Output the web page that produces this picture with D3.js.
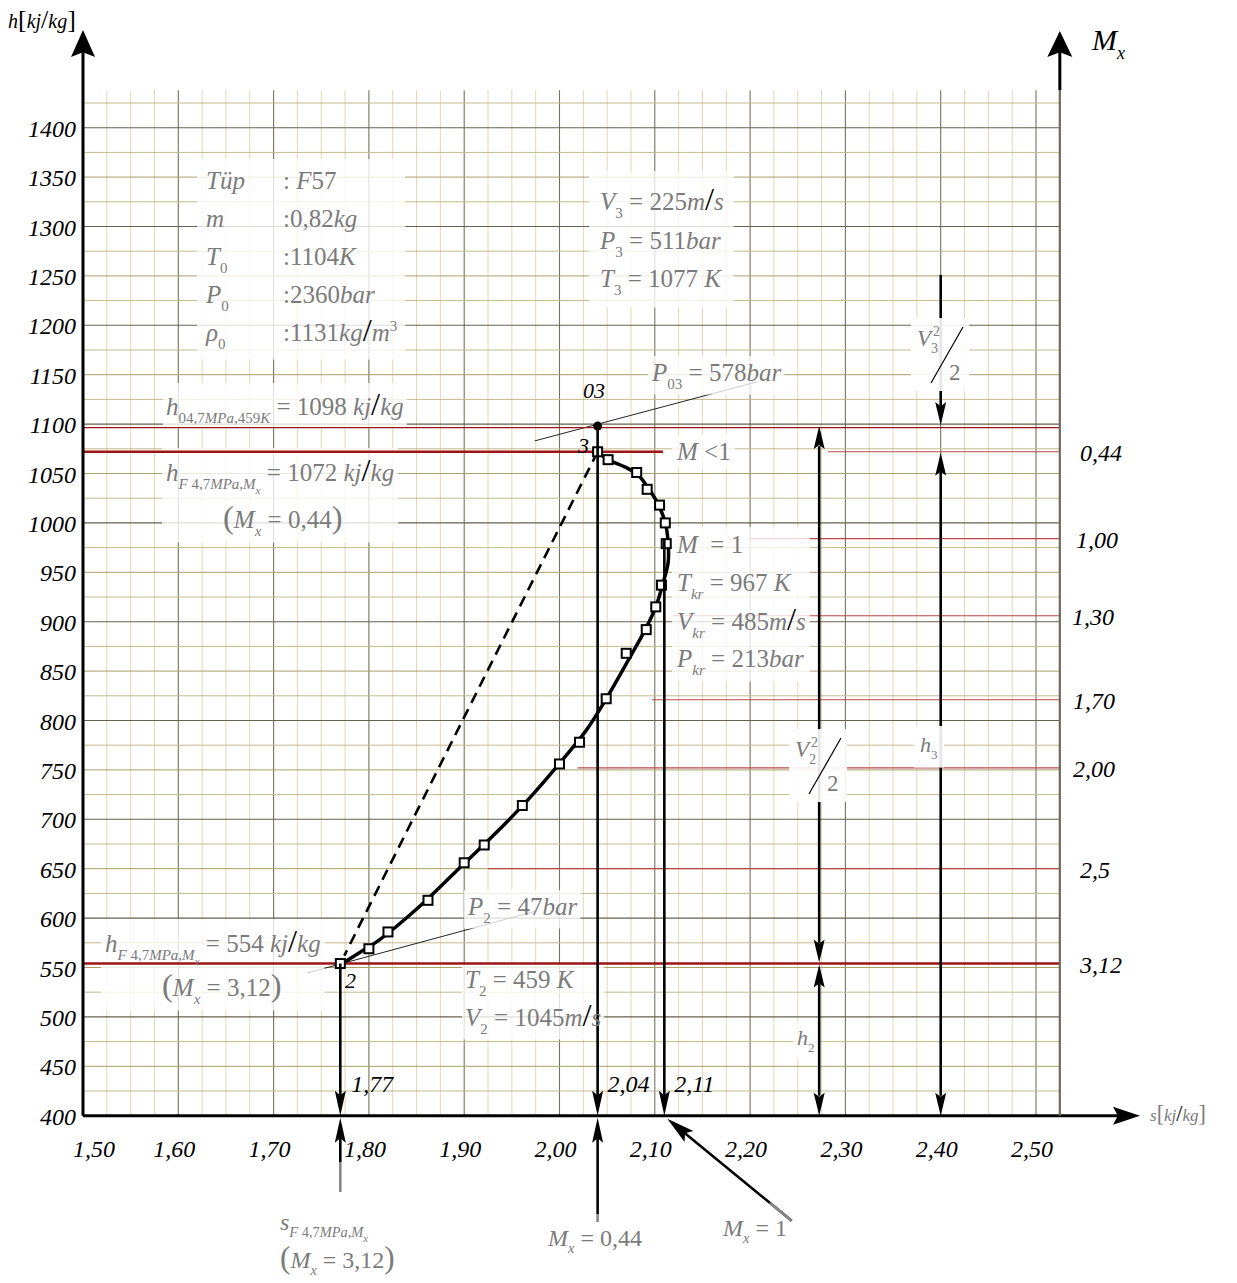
<!DOCTYPE html>
<html>
<head>
<meta charset="utf-8">
<script src="https://cdn.jsdelivr.net/npm/d3@7"></script>
<style>
  body { margin: 0; background: #fff; }
  svg text { font-family: "Liberation Serif", "Times New Roman", serif; white-space: pre; }
</style>
</head>
<body>
<div id="chart"></div>
<script>
// ---- values ----
var hTicks = d3.range(400, 1401, 50);
var sTicks = [1.5, 1.6, 1.7, 1.8, 1.9, 2.0, 2.1, 2.2, 2.3, 2.4, 2.5];
var sTickLabels = ["1,50", "1,60", "1,70", "1,80", "1,90", "2,00", "2,10", "2,20", "2,30", "2,40", "2,50"];

// measured states (squares)
var pointS = [2.040, 2.051, 2.081, 2.092, 2.105, 2.111, 2.112, 2.107, 2.101, 2.091, 2.070, 2.049, 2.021, 2.000, 1.961, 1.921, 1.900, 1.862, 1.820, 1.800, 1.770];
var pointH = [1072, 1064, 1051, 1034, 1018, 1000, 979, 937, 915, 892, 868, 822, 778, 756, 714, 674, 656, 618, 586, 569, 554];

// fitted expansion curve 3 -> 2
var curveS = [2.040, 2.051, 2.070, 2.083, 2.094, 2.104, 2.111, 2.114, 2.114, 2.108, 2.101, 2.090, 2.075, 2.049, 2.028, 2.003, 1.969, 1.931, 1.890, 1.851, 1.811, 1.790, 1.772];
var curveH = [1072, 1064, 1056, 1048, 1034, 1018, 1000, 980, 960, 937, 915, 892, 866, 822, 790, 760, 722, 684, 646, 610, 578, 565, 554];

// Mach number levels on the right axis
var machLabels = ["0,44", "1,00", "1,30", "1,70", "2,00", "2,5", "3,12"];
var machH = [1072, 984, 906, 821, 752, 650, 554];

// characteristic entropies
var stateS = [1.77, 2.04, 2.11];
var stateLabels = ["1,77", "2,04", "2,11"];
var stateTopH = [554, 1098, 984];

var h03 = 1098, h3 = 1072, h2 = 554, s3 = 2.04, s2 = 1.77;

// ---- layout ----
var svgWidth = 1237, svgHeight = 1283;
var x = d3.scaleLinear().domain([1.5, 2.5]).range([83, 1036]);
var y = d3.scaleLinear().domain([400, 1400]).range([1115.7, 127.7]);
var sEnd = 2.525, hTop = 1438;
var gray = "#7b7b7b", darkRed = "#9e1414", red = "#b84848";

var svg = d3.select("#chart").append("svg").attr("width", svgWidth).attr("height", svgHeight);
var gridG = svg.append("g"), redG = svg.append("g"), boxG = svg.append("g"),
    markG = svg.append("g"), topG = svg.append("g");

// text with sub/superscripts: _{..} sub, __{..} sub of sub, ^{..} sup
function richText(g, px, py, str, size, fill, anchor) {
  size = size || 25;
  var t = g.append("text").attr("x", px).attr("y", py)
    .attr("font-size", size).attr("fill", fill || gray)
    .attr("text-anchor", anchor || "start");
  var re = /(__|_|\^)\{([^}]*)\}|([^_^]+)/g, m, cur = 0;
  while ((m = re.exec(str)) !== null) {
    var kind = m[1] || "", s = m[1] ? m[2] : m[3];
    var off = kind === "_" ? size * 0.3 : kind === "__" ? size * 0.5 : kind === "^" ? -size * 0.42 : 0;
    var fs = kind === "" ? size : kind === "__" ? size * 0.45 : size * 0.6;
    var runs = s.match(/[A-Za-zρü]+|[\/()\[\]]|[^A-Za-zρü\/()\[\]]+/g) || [];
    runs.forEach(function (r, i) {
      var ts = t.append("tspan").attr("font-size", fs).text(r);
      if (i === 0) ts.attr("dy", off - cur);
      if (/[A-Za-zρü]/.test(r)) ts.attr("font-style", "italic");
      if (r === "/") ts.attr("fill", "#000").attr("font-size", fs * 1.3);
      if ("()[]".indexOf(r) >= 0) ts.attr("font-size", fs * 1.3);
    });
    cur = off;
  }
  return t;
}

// a label block with a white box behind it
function block(fn, cover, pad) {
  var g = topG.append("g");
  fn(g);
  var b = g.node().getBBox();
  pad = pad == null ? 5 : pad;
  var layer = cover ? topG : boxG;
  layer.insert("rect", cover ? function () { return g.node(); } : null)
    .attr("x", b.x - pad).attr("y", b.y - pad)
    .attr("width", b.width + 2 * pad).attr("height", b.height + 2 * pad)
    .attr("fill", "#fff").attr("opacity", cover ? 0.9 : 0.78);
  return g;
}

function head(g, tx, ty, ux, uy, len, half, color) {
  var bx = tx - ux * len, by = ty - uy * len, px = -uy, py = ux;
  var nx = tx - ux * len * 0.82, ny = ty - uy * len * 0.82;
  g.append("path")
    .attr("d", "M" + tx + "," + ty + "L" + (bx + px * half) + "," + (by + py * half) +
      "L" + nx + "," + ny + "L" + (bx - px * half) + "," + (by - py * half) + "Z")
    .attr("fill", color || "#000");
}

function seg(g, x1, y1, x2, y2, w, color, dash) {
  var l = g.append("line").attr("x1", x1).attr("y1", y1).attr("x2", x2).attr("y2", y2)
    .attr("stroke", color || "#000").attr("stroke-width", w || 1);
  if (dash) l.attr("stroke-dasharray", dash);
  return l;
}

// ---- grid ----
gridG.selectAll(".vg").data(d3.range(1, 41)).join("line")
  .attr("x1", function (i) { return x(1.5 + i * 0.025); })
  .attr("x2", function (i) { return x(1.5 + i * 0.025); })
  .attr("y1", y(hTop)).attr("y2", y(400))
  .attr("stroke", function (i) { return i % 4 === 0 ? "#77725e" : "#e0d7b6"; })
  .attr("stroke-width", function (i) { return i % 4 === 0 ? 1.1 : 1; });

gridG.selectAll(".hg").data(d3.range(425, 1426, 25)).join("line")
  .attr("x1", x(1.5)).attr("x2", x(sEnd))
  .attr("y1", function (d) { return y(d); }).attr("y2", function (d) { return y(d); })
  .attr("stroke", function (d) { return d % 100 === 0 ? "#66624f" : d % 50 === 0 ? "#aa9f6c" : "#c4ba8e"; })
  .attr("stroke-width", function (d) { return d % 100 === 0 ? 1.1 : 1; });

// ---- red Mach lines ----
var machFromS = [2.2817, 2.200, 2.119, 2.097, 2.019, 1.925, 1.5];
machH.forEach(function (h, i) {
  var thick = i === machH.length - 1;
  seg(thick ? markG : redG, x(machFromS[i]), y(h), x(sEnd), y(h), thick ? 2.6 : 1.2, thick ? darkRed : red);
  redG.append("text").attr("x", [1080, 1076, 1072, 1073, 1073, 1080, 1080][i]).attr("y", y(h) + 9)
    .attr("font-size", 24).attr("font-style", "italic").attr("fill", "#000").text(machLabels[i]);
});
seg(markG, x(1.5), y(h3), x(2.1086), y(h3), 2.6, darkRed);
seg(markG, x(1.5), y(h03) + 1.5, x(sEnd), y(h03) + 1.5, 1.3, darkRed);

// leader lines for P03 and P2
seg(redG, x(1.974), y(1083), x(2.208), y(1143), 1, "#222");
seg(redG, x(1.735), y(544.4), x(1.976), y(607.3), 1, "#222");

// ---- axes ----
var y0 = y(400);
seg(markG, x(1.5), y0, x(1.5), 52, 3);
head(markG, x(1.5), 30, 0, -1, 27, 12);
seg(markG, x(1.5), y0, 1118, y0, 3);
head(markG, 1140, y0, 1, 0, 27, 9);
seg(markG, x(sEnd), y0, x(sEnd), 90, 2.2, "#6e6a58");
seg(markG, x(sEnd), 90, x(sEnd), 52, 3);
head(markG, x(sEnd), 31, 0, -1, 26, 12.5);

markG.selectAll(".yt").data(hTicks).join("text")
  .attr("x", 76).attr("y", function (d) { return y(d) + 9; })
  .attr("text-anchor", "end").attr("font-size", 24).attr("font-style", "italic")
  .text(function (d) { return d; });
markG.selectAll(".xt").data(sTicks).join("text")
  .attr("x", function (d, i) { return x(d) + (i === 0 ? 11 : -4); }).attr("y", 1157)
  .attr("text-anchor", "middle").attr("font-size", 24).attr("font-style", "italic")
  .text(function (d, i) { return sTickLabels[i]; });

richText(markG, 8, 28, "h[kj/kg]", 20, "#000");
richText(markG, 1150, 1121, "s[kj/kg]", 17, gray);
richText(markG, 1092, 50, "M_{x}", 30, "#000");

// ---- curve, dashed isentrope, points ----
var line = d3.line()
  .x(function (i) { return x(curveS[i]); })
  .y(function (i) { return y(curveH[i]); })
  .curve(d3.curveCatmullRom.alpha(0.5));
markG.append("path").attr("d", line(d3.range(curveS.length)))
  .attr("fill", "none").attr("stroke", "#000").attr("stroke-width", 3.5);
seg(markG, x(s3), y(h3), x(s2) + 4, y(h2) - 8, 2.6, "#000", "11,7");

markG.selectAll(".pt").data(d3.range(pointS.length)).join("rect")
  .attr("x", function (i) { return x(pointS[i]) - 4.5; })
  .attr("y", function (i) { return y(pointH[i]) - 4.5; })
  .attr("width", 9).attr("height", 9)
  .attr("fill", "#fff").attr("stroke", "#000").attr("stroke-width", 2);

markG.append("circle").attr("cx", x(s3)).attr("cy", y(h03)).attr("r", 4.5).attr("fill", "#000");
markG.append("text").attr("x", 583).attr("y", 398).attr("font-size", 22).attr("font-style", "italic").text("03");
markG.append("text").attr("x", 578).attr("y", 453).attr("font-size", 22).attr("font-style", "italic").text("3");
markG.append("text").attr("x", 345).attr("y", 988).attr("font-size", 22).attr("font-style", "italic").text("2");

// ---- vertical entropy arrows ----
stateS.forEach(function (s, i) {
  var xs = x(s);
  seg(markG, xs, y(stateTopH[i]), xs, y0 - 20, 2.6);
  head(markG, xs, y0, 0, 1, 25, 5.5);
  markG.append("text").attr("x", xs + [11, 10, 10][i]).attr("y", 1092)
    .attr("font-size", 24).attr("font-style", "italic").text(stateLabels[i]);
});
// arrows below the axis
seg(markG, x(s2), y0 + 20, x(s2), 1162, 2.6);
seg(markG, x(s2), 1162, x(s2), 1192, 2.6, "#888");
head(markG, x(s2), y0 + 2, 0, -1, 25, 5.5);
seg(markG, x(s3), y0 + 20, x(s3), 1214, 2.6);
seg(markG, x(s3), 1214, x(s3), 1222, 2.6, "#888");
head(markG, x(s3), y0 + 2, 0, -1, 25, 5.5);
(function () {
  var tx = x(2.11) + 3, ty = y0 + 3, fx = 770, fy = 1203;
  var len = Math.hypot(fx - tx, fy - ty), ux = (tx - fx) / len, uy = (ty - fy) / len;
  seg(markG, fx - ux * 28, fy - uy * 28, tx - ux * 22, ty - uy * 22, 2.6);
  seg(markG, fx, fy, fx - ux * 28, fy - uy * 28, 2.6, "#888");
  head(markG, tx, ty, ux, uy, 28, 7);
})();

// ---- double arrows on the right ----
var sV2 = 2.2725, sH3 = 2.40;
seg(markG, x(sV2), y(h03) + 20, x(sV2), y(h2) - 20, 2.6);
head(markG, x(sV2), y(h03), 0, -1, 23, 5.5);
head(markG, x(sV2), y(h2) - 1, 0, 1, 23, 5.5);
seg(markG, x(sV2), y(h2) + 20, x(sV2), y0 - 20, 2.6);
head(markG, x(sV2), y(h2) + 1, 0, -1, 23, 5.5);
head(markG, x(sV2), y0, 0, 1, 23, 5.5);

seg(markG, x(sH3), y(1251), x(sH3), y(h03) - 20, 2.6);
head(markG, x(sH3), y(h03) - 1, 0, 1, 23, 5.5);
seg(markG, x(sH3), y(h3) + 20, x(sH3), y0 - 20, 2.6);
head(markG, x(sH3), y(h3) + 1, 0, -1, 23, 5.5);
head(markG, x(sH3), y0, 0, 1, 23, 5.5);

// ---- annotation labels ----
block(function (g) {
  var rows = [["Tüp", ": F57"], ["m", ":0,82kg"], ["T_{0}", ":1104K"], ["P_{0}", ":2360bar"], ["ρ_{0}", ":1131kg/m^{3}"]];
  rows.forEach(function (r, i) {
    var by = 189 + i * 38;
    richText(g, 206, by, r[0]);
    richText(g, 283, by, r[1]);
  });
}, false, 8);

block(function (g) {
  richText(g, 600, 210, "V_{3} = 225m/s");
  richText(g, 600, 249, "P_{3} = 511bar");
  richText(g, 600, 287, "T_{3} = 1077 K");
}, false, 10);

block(function (g) { richText(g, 652, 381, "P_{03} = 578bar"); }, false, 3);
block(function (g) { richText(g, 166, 415, "h_{04,7MPa,459K} = 1098 kj/kg"); }, false, 3);
block(function (g) {
  richText(g, 166, 481, "h_{F 4,7MPa,M}__{x} = 1072 kj/kg");
  richText(g, 223, 528, "(M_{x} = 0,44)");
}, false, 4);
block(function (g) { richText(g, 677, 460, "M <1"); }, false, 4);
block(function (g) {
  richText(g, 677, 553, "M  = 1");
  richText(g, 677, 591, "T_{kr} = 967 K");
  richText(g, 677, 630, "V_{kr} = 485m/s");
  richText(g, 677, 667, "P_{kr} = 213bar");
}, false, 4);
block(function (g) {
  richText(g, 105, 952, "h_{F 4,7MPa,M}__{x} = 554 kj/kg");
  richText(g, 162, 996, "(M_{x} = 3,12)");
}, false, 4);
block(function (g) { richText(g, 468, 915, "P_{2} = 47bar"); }, false, 3);
block(function (g) {
  richText(g, 465, 988, "T_{2} = 459 K");
  richText(g, 465, 1026, "V_{2} = 1045m/s");
}, false, 3);

// fraction labels sitting on the arrows
function halfSquare(g, vx, vy, idx) {
  richText(g, vx, vy, "V", 23);
  richText(g, vx + 14, vy + 7, idx, 14);
  richText(g, vx + 16, vy - 10, "2", 14);
  seg(g, vx + 14, vy + 37, vx + 46, vy - 19, 1.2, "#000");
  richText(g, vx + 32, vy + 34, "2", 23);
}
block(function (g) { halfSquare(g, 795, 757, "2"); }, true, 6);
block(function (g) { halfSquare(g, 917, 346, "3"); }, true, 6);
block(function (g) { richText(g, 920, 752, "h_{3}", 22); }, true, 6);
block(function (g) { richText(g, 797, 1045, "h_{2}", 22); }, false, 4);

// bottom captions
richText(topG, 280, 1230, "s_{F 4,7MPa,M}__{x}", 24);
richText(topG, 280, 1268, "(M_{x} = 3,12)", 24);
richText(topG, 548, 1246, "M_{x} = 0,44", 24);
richText(topG, 723, 1236, "M_{x} = 1", 24);
</script>
</body>
</html>
